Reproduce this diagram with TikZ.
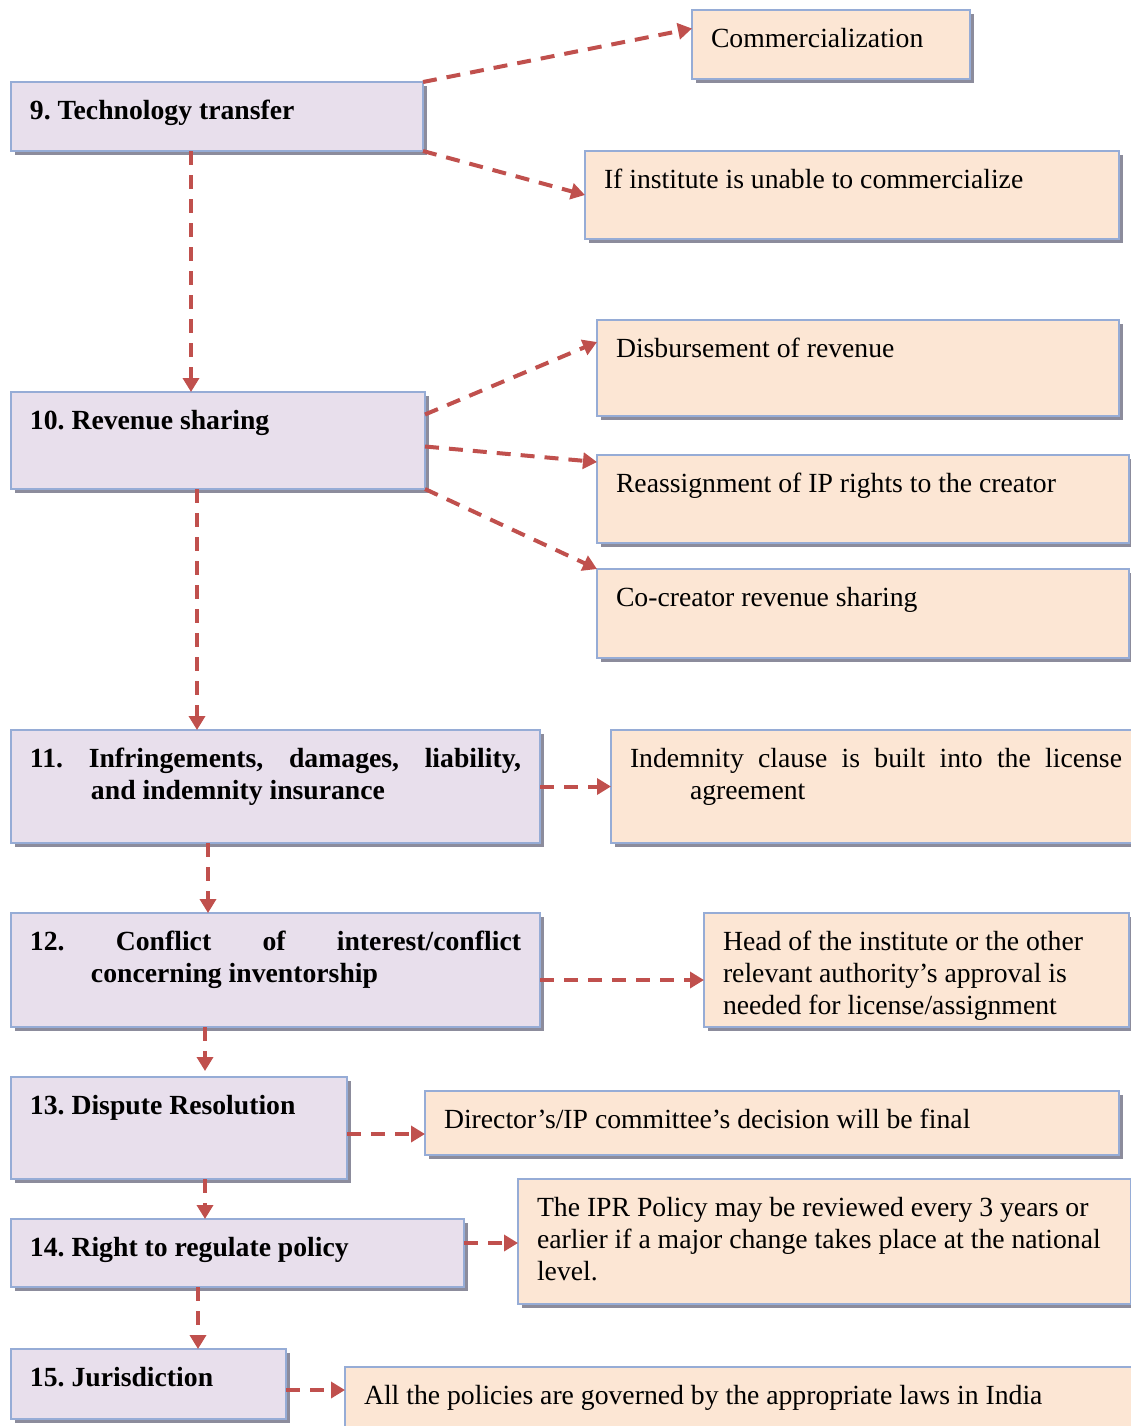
\documentclass[tikz,border=0pt]{standalone}
\usepackage{fontspec}
\setmainfont{Liberation Serif}
\usetikzlibrary{arrows.meta,shadows}
\definecolor{lilac}{RGB}{232,223,236}
\definecolor{peach}{RGB}{252,230,212}
\definecolor{edgeblue}{RGB}{150,172,214}
\definecolor{shadowgray}{RGB}{128,128,145}
\definecolor{arrowred}{RGB}{192,80,77}
\tikzset{
  card/.style={draw=edgeblue, line width=1.1pt, anchor=north west, outer sep=0pt,
    inner xsep=9.5pt, inner ysep=9pt,
    drop shadow={shadow xshift=1.8pt, shadow yshift=-2pt, fill=shadowgray, opacity=.9}},
  stage/.style={card, fill=lilac, font=\fontsize{13.85}{16}\selectfont\bfseries\frenchspacing},
  outcome/.style={card, fill=peach, font=\fontsize{13.85}{16}\selectfont\frenchspacing},
  flow/.style={draw=arrowred, line width=2pt, dash pattern=on 7pt off 5pt,
    -{Triangle[length=7pt,width=8pt]}}
}
\newcommand{\stage}{\node[stage]}
\newcommand{\outcome}{\node[outcome]}
% width and height in px, text at the top
\newcommand{\boxtext}[3]{\parbox[c][\dimexpr#2pt/2-18pt\relax][t]{\dimexpr#1pt/2-19pt\relax}{#3}}

\begin{document}
\begin{tikzpicture}[x=0.5pt, y=-0.5pt]
    \useasboundingbox (0,0) rectangle (1131,1426);

    % left column
    \stage (b9) at (11,82) {\boxtext{412}{69}{9. Technology transfer}};
    \stage (b10) at (11,392) {\boxtext{414}{97}{10. Revenue sharing}};
    \stage (b11) at (11,730) {\boxtext{529}{113}{\hangindent=30.5pt\hangafter=1
        11. Infringements, damages, liability,\linebreak and indemnity insurance}};
    \stage (b12) at (11,913) {\boxtext{529}{114}{\hangindent=30.5pt\hangafter=1
        12. Conflict of interest/conflict\linebreak concerning inventorship}};
    \stage (b13) at (11,1077) {\boxtext{336}{102}{13. Dispute Resolution}};
    \stage (b14) at (11,1219) {\boxtext{453}{68}{14. Right to regulate policy}};
    \stage (b15) at (11,1349) {\boxtext{275}{70}{15. Jurisdiction}};

    % right column
    \outcome (c1) at (692,10) {\boxtext{278}{69}{Commercialization}};
    \outcome (c2) at (585,151) {\boxtext{534}{88}{If institute is unable to commercialize}};
    \outcome (c3) at (597,320) {\boxtext{522}{96}{Disbursement of revenue}};
    \outcome (c4) at (597,455) {\boxtext{532}{88}{Reassignment of IP rights to the creator}};
    \outcome (c5) at (597,569) {\boxtext{532}{89}{Co-creator revenue sharing}};
    \outcome (c6) at (611,730) {\boxtext{530}{113}{\hangindent=30pt\hangafter=1
        Indemnity clause is built into the license\linebreak agreement}};
    \outcome (c7) at (704,913) {\boxtext{425}{114}{Head of the institute or the other\\
        relevant authority’s approval is\\ needed for license/assignment}};
    \outcome (c8) at (425,1091) {\boxtext{694}{64}{Director’s/IP committee’s decision will be final}};
    \outcome (c9) at (518,1179) {\boxtext{613}{125}{The IPR Policy may be reviewed every 3 years or\\
        earlier if a major change takes place at the national\\ level.}};
    \outcome (c10) at (345,1367) {\boxtext{790}{70}{All the policies are governed by the appropriate laws in India}};

    % down the stages
    \draw[flow] ([xshift=-13pt]b9.south) -- ([xshift=-13.5pt]b10.north);
    \draw[flow] ([xshift=-10.5pt]b10.south) -- ([xshift=-39.25pt]b11.north);
    \draw[flow] ([xshift=-33.75pt]b11.south) -- ([xshift=-33.75pt]b12.north);
    \draw[flow] ([xshift=-35.25pt]b12.south) -- ([xshift=13pt,yshift=3pt]b13.north);
    \draw[flow] ([xshift=13pt]b13.south) -- ([xshift=-16.25pt]b14.north);
    \draw[flow] ([xshift=-19.75pt]b14.south) -- ([xshift=24.75pt]b15.north);

    % out to the notes
    \draw[flow] (b9.north east) -- ([yshift=8pt]c1.west);
    \draw[flow] (b9.south east) -- (c2.west);
    \draw[flow] ([yshift=13pt]b10.east) -- ([yshift=13pt]c3.west);
    \draw[flow] ([yshift=-3pt]b10.east) -- ([yshift=18.5pt]c4.west);
    \draw[flow] (b10.south east) -- (c5.north west);
    \draw[flow] (b11.east) -- (c6.west);
    \draw[flow] ([yshift=-5pt]b12.east) -- ([yshift=-5pt]c7.west);
    \draw[flow] ([yshift=-3pt]b13.east) -- ([yshift=-5.5pt]c8.west);
    \draw[flow] ([yshift=5pt]b14.east) -- ([yshift=-0.75pt]c9.west);
    \draw[flow] ([yshift=-3pt]b15.east) -- ([yshift=6pt]c10.west);
\end{tikzpicture}
\end{document}
